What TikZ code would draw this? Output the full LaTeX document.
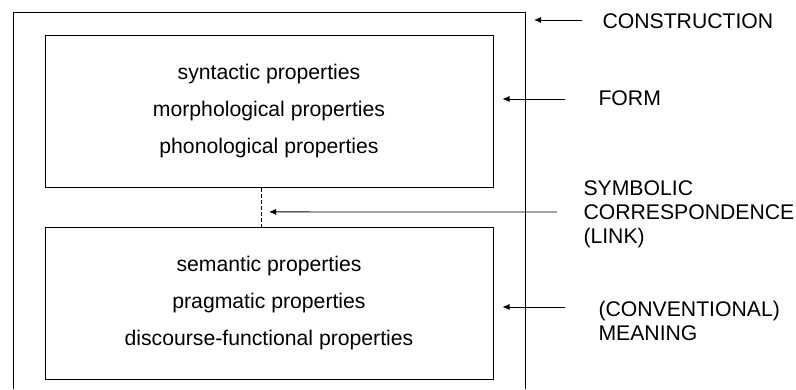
\documentclass[tikz,border=0pt]{standalone}
\usepackage{fontspec}
\setmainfont{Liberation Sans}
\usetikzlibrary{arrows.meta}
\begin{document}
\begin{tikzpicture}[x=1pt,y=-1pt,line width=1pt,
  propbox/.style={draw,minimum width=448pt,minimum height=152pt,align=center,font=\fontsize{21.2}{37}\selectfont},
  tag/.style={anchor=west,inner sep=0pt,align=left,font=\fontsize{21.2}{24}\selectfont},
  pointer/.style={-{Latex[length=7pt,width=6pt]},line width=0.8pt}]
\useasboundingbox (0,0) rectangle (796,389);
\def\cx{269};
\def\gap{9pt};
% outer frame, open at the bottom
\coordinate (SW) at (13,389);
\coordinate (NW) at (13,12);
\coordinate (NE) at (525,12);
\coordinate (SE) at (525,389);
\draw (SW) -- (NW) -- (NE) -- (SE);

\node[propbox] (form) at (\cx,111) {syntactic properties\\morphological properties\\phonological properties};
\node[propbox] (meaning) at (\cx,303) {semantic properties\\pragmatic properties\\discourse-functional properties};
\draw[dash pattern=on 4pt off 2pt] ([xshift=-8pt]form.south) -- coordinate[pos=0.625] (link) ([xshift=-8pt]meaning.north);

\node[tag] (construction) at (602,21) {CONSTRUCTION};
\node[tag] (formtag) at (598,98) {FORM};
\node[tag] (linktag) at (583,214) {SYMBOLIC\\CORRESPONDENCE\\(LINK)};
\node[tag] (meaningtag) at (598,321) {(CONVENTIONAL)\\MEANING};

% pointers from the labels
\coordinate (constrtail) at (582,20);
\coordinate (formtail) at (565,99);
\coordinate (linktail) at (557,212);
\coordinate (meaningtail) at (565,307);
\draw[pointer,shorten >=\gap] (constrtail) -- (constrtail -| NE);
\draw[pointer,shorten >=\gap] (formtail) -- (formtail -| form.east);
\draw[pointer,shorten >=8pt] (linktail) -- (link);
\draw[pointer,shorten >=\gap] (meaningtail) -- (meaningtail -| meaning.east);
\end{tikzpicture}
\end{document}
